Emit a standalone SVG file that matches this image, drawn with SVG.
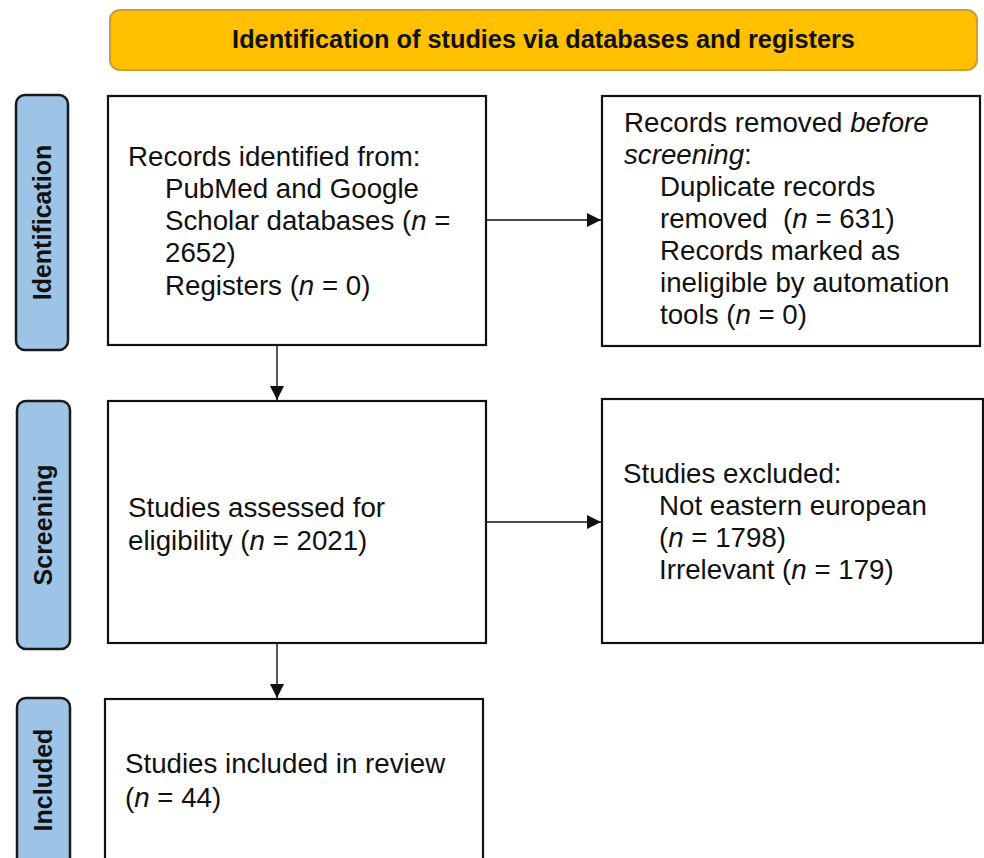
<svg xmlns="http://www.w3.org/2000/svg" width="984" height="858" viewBox="0 0 984 858">
<style>
.box{fill:#fff;stroke:#111;stroke-width:2.2}
.side{fill:#9DC3E6;stroke:#1a1a1a;stroke-width:2.5}
.t{font-family:"Liberation Sans",Arial,sans-serif;font-size:27.7px;fill:#111}
.sl{font-family:"Liberation Sans",Arial,sans-serif;font-size:25px;font-weight:bold;fill:#111}
.hd{font-size:25.3px}
.conn{stroke:#111;stroke-width:1.4;fill:none}
</style>
<defs>
<marker id="ah" markerUnits="userSpaceOnUse" markerWidth="14" markerHeight="14" viewBox="0 0 14 14" refX="14" refY="7" orient="auto">
<path d="M0,0 L14,7 L0,14 Z" fill="#111"/>
</marker>
</defs>
<rect width="984" height="858" fill="#fff"/>
<g id="header">
<rect x="110" y="10" width="867" height="60" rx="10" fill="#FFC000" stroke="#C9A02A" stroke-width="2"/>
<text class="sl hd" x="543.5" y="48" text-anchor="middle">Identification of studies via databases and registers</text>
</g>
<g id="label-identification">
<rect class="side" x="16" y="95" width="52" height="255" rx="9"/>
<text class="sl" transform="translate(51,222.5) rotate(-90)" text-anchor="middle">Identification</text>
</g>
<g id="label-screening">
<rect class="side" x="17" y="401" width="53" height="248" rx="9"/>
<text class="sl" transform="translate(52,525) rotate(-90)" text-anchor="middle">Screening</text>
</g>
<g id="label-included">
<rect class="side" x="17" y="698" width="53" height="190" rx="9"/>
<text class="sl" transform="translate(52,780) rotate(-90)" text-anchor="middle">Included</text>
</g>
<g id="records-identified">
<rect class="box" x="108" y="96" width="378" height="249"/>
<text class="t" x="128" y="166">Records identified from:</text>
<text class="t" x="165" y="198">PubMed and Google</text>
<text class="t" x="165" y="230">Scholar databases (<tspan font-style="italic">n</tspan> =</text>
<text class="t" x="165" y="262">2652)</text>
<text class="t" x="165" y="295">Registers (<tspan font-style="italic">n</tspan> = 0)</text>
</g>
<g id="records-removed">
<rect class="box" x="602" y="96" width="378" height="250"/>
<text class="t" x="624" y="132">Records removed <tspan font-style="italic">before</tspan></text>
<text class="t" x="624" y="164"><tspan font-style="italic">screening</tspan>:</text>
<text class="t" x="660" y="196">Duplicate records</text>
<text class="t" x="660" y="228">removed &#160;(<tspan font-style="italic">n</tspan> = 631)</text>
<text class="t" x="660" y="260">Records marked as</text>
<text class="t" x="660" y="292">ineligible by automation</text>
<text class="t" x="660" y="324">tools (<tspan font-style="italic">n</tspan> = 0)</text>
</g>
<g id="studies-assessed">
<rect class="box" x="108" y="401" width="378" height="242"/>
<text class="t" x="128" y="517">Studies assessed for</text>
<text class="t" x="128" y="550">eligibility (<tspan font-style="italic">n</tspan> = 2021)</text>
</g>
<g id="studies-excluded">
<rect class="box" x="602" y="399" width="381" height="244"/>
<text class="t" x="623" y="483">Studies excluded:</text>
<text class="t" x="659" y="515">Not eastern european</text>
<text class="t" x="659" y="547">(<tspan font-style="italic">n</tspan> = 1798)</text>
<text class="t" x="659" y="579">Irrelevant (<tspan font-style="italic">n</tspan> = 179)</text>
</g>
<g id="studies-included">
<rect class="box" x="105" y="699" width="378" height="190"/>
<text class="t" x="125" y="773">Studies included in review</text>
<text class="t" x="125" y="807">(<tspan font-style="italic">n</tspan> = 44)</text>
</g>
<g id="connectors">
<line class="conn" x1="486" y1="220" x2="601" y2="220" marker-end="url(#ah)"/>
<line class="conn" x1="277" y1="346" x2="277" y2="400" marker-end="url(#ah)"/>
<line class="conn" x1="486" y1="522" x2="601" y2="522" marker-end="url(#ah)"/>
<line class="conn" x1="277" y1="644" x2="277" y2="698" marker-end="url(#ah)"/>
</g>
</svg>
